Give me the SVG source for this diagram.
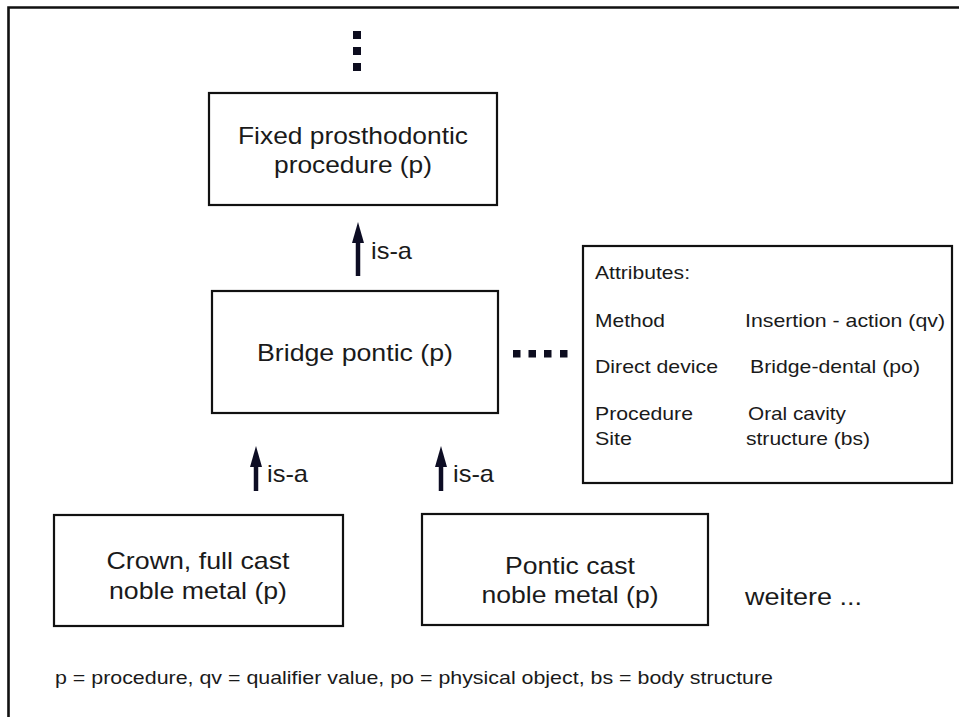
<svg xmlns="http://www.w3.org/2000/svg" width="959" height="717" viewBox="0 0 959 717">
<defs>
<style>
.box{fill:#fff;stroke:#111;stroke-width:2.2}
.t{font-family:"Liberation Sans",Arial,sans-serif;font-size:24px;fill:#1a1a1a}
.ts{font-family:"Liberation Sans",Arial,sans-serif;font-size:19px;fill:#1a1a1a}
.tf{font-family:"Liberation Sans",Arial,sans-serif;font-size:19px;fill:#1a1a1a}
.dot{fill:#0d0d1f}
.shaft{stroke:#0d0d24;stroke-width:4.5;fill:none}
.head{fill:#0d0d24}
</style>
</defs>
<rect x="0" y="0" width="959" height="717" fill="#fff"/>
<path d="M8.5,717 V7.5 H959" fill="none" stroke="#111" stroke-width="2.6"/>

<g id="dots-top">
<rect class="dot" x="353" y="31" width="8" height="8"/>
<rect class="dot" x="353" y="47" width="8" height="8"/>
<rect class="dot" x="353" y="63" width="8" height="8"/>
</g>

<g id="node-fixed">
<rect class="box" x="209" y="93" width="288" height="112"/>
<text class="t" x="353" y="144" text-anchor="middle" textLength="230" lengthAdjust="spacingAndGlyphs">Fixed prosthodontic</text>
<text class="t" x="353" y="173" text-anchor="middle" textLength="158" lengthAdjust="spacingAndGlyphs">procedure (p)</text>
</g>

<g id="node-bridge">
<rect class="box" x="212" y="291" width="286" height="122"/>
<text class="t" x="355" y="361" text-anchor="middle" textLength="196" lengthAdjust="spacingAndGlyphs">Bridge pontic (p)</text>
</g>

<g id="node-attributes">
<rect class="box" x="583" y="246" width="369" height="237"/>
<text class="ts" x="595" y="279" textLength="95" lengthAdjust="spacingAndGlyphs">Attributes:</text>
<text class="ts" x="595" y="327" textLength="70" lengthAdjust="spacingAndGlyphs">Method</text>
<text class="ts" x="745" y="327" textLength="200" lengthAdjust="spacingAndGlyphs">Insertion - action (qv)</text>
<text class="ts" x="595" y="373" textLength="123" lengthAdjust="spacingAndGlyphs">Direct device</text>
<text class="ts" x="750" y="373" textLength="170" lengthAdjust="spacingAndGlyphs">Bridge-dental (po)</text>
<text class="ts" x="595" y="420" textLength="98" lengthAdjust="spacingAndGlyphs">Procedure</text>
<text class="ts" x="595" y="445" textLength="37" lengthAdjust="spacingAndGlyphs">Site</text>
<text class="ts" x="748" y="420" textLength="98" lengthAdjust="spacingAndGlyphs">Oral cavity</text>
<text class="ts" x="746" y="445" textLength="124" lengthAdjust="spacingAndGlyphs">structure (bs)</text>
</g>

<g id="node-crown">
<rect class="box" x="54" y="515" width="289" height="111"/>
<text class="t" x="198" y="569" text-anchor="middle" textLength="183" lengthAdjust="spacingAndGlyphs">Crown, full cast</text>
<text class="t" x="198" y="599" text-anchor="middle" textLength="178" lengthAdjust="spacingAndGlyphs">noble metal (p)</text>
</g>

<g id="node-pontic">
<rect class="box" x="422" y="514" width="286" height="111"/>
<text class="t" x="570" y="574" text-anchor="middle" textLength="130" lengthAdjust="spacingAndGlyphs">Pontic cast</text>
<text class="t" x="570" y="603" text-anchor="middle" textLength="177" lengthAdjust="spacingAndGlyphs">noble metal (p)</text>
</g>

<g id="node-weitere">
<text class="t" x="745" y="605" textLength="117" lengthAdjust="spacingAndGlyphs">weitere ...</text>
</g>

<g id="connectors">
<line class="shaft" x1="358" y1="276" x2="358" y2="238"/>
<polygon class="head" points="358,222 352,243 364,243"/>
<text class="t" x="371" y="259" textLength="41" lengthAdjust="spacingAndGlyphs">is-a</text>

<line class="shaft" x1="256" y1="491" x2="256" y2="462"/>
<polygon class="head" points="256,446 250,467 262,467"/>
<text class="t" x="267" y="482" textLength="41" lengthAdjust="spacingAndGlyphs">is-a</text>

<line class="shaft" x1="441" y1="491" x2="441" y2="462"/>
<polygon class="head" points="441,446 435,467 447,467"/>
<text class="t" x="453" y="482" textLength="41" lengthAdjust="spacingAndGlyphs">is-a</text>

<g id="dotted-link">
<rect class="dot" x="513" y="350" width="7.5" height="7.5"/>
<rect class="dot" x="528.5" y="350" width="7.5" height="7.5"/>
<rect class="dot" x="544" y="350" width="7.5" height="7.5"/>
<rect class="dot" x="560" y="350" width="7.5" height="7.5"/>
</g>
</g>

<g id="legend">
<text class="tf" x="55" y="684" textLength="718" lengthAdjust="spacingAndGlyphs">p = procedure, qv = qualifier value, po = physical object, bs = body structure</text>
</g>
</svg>
